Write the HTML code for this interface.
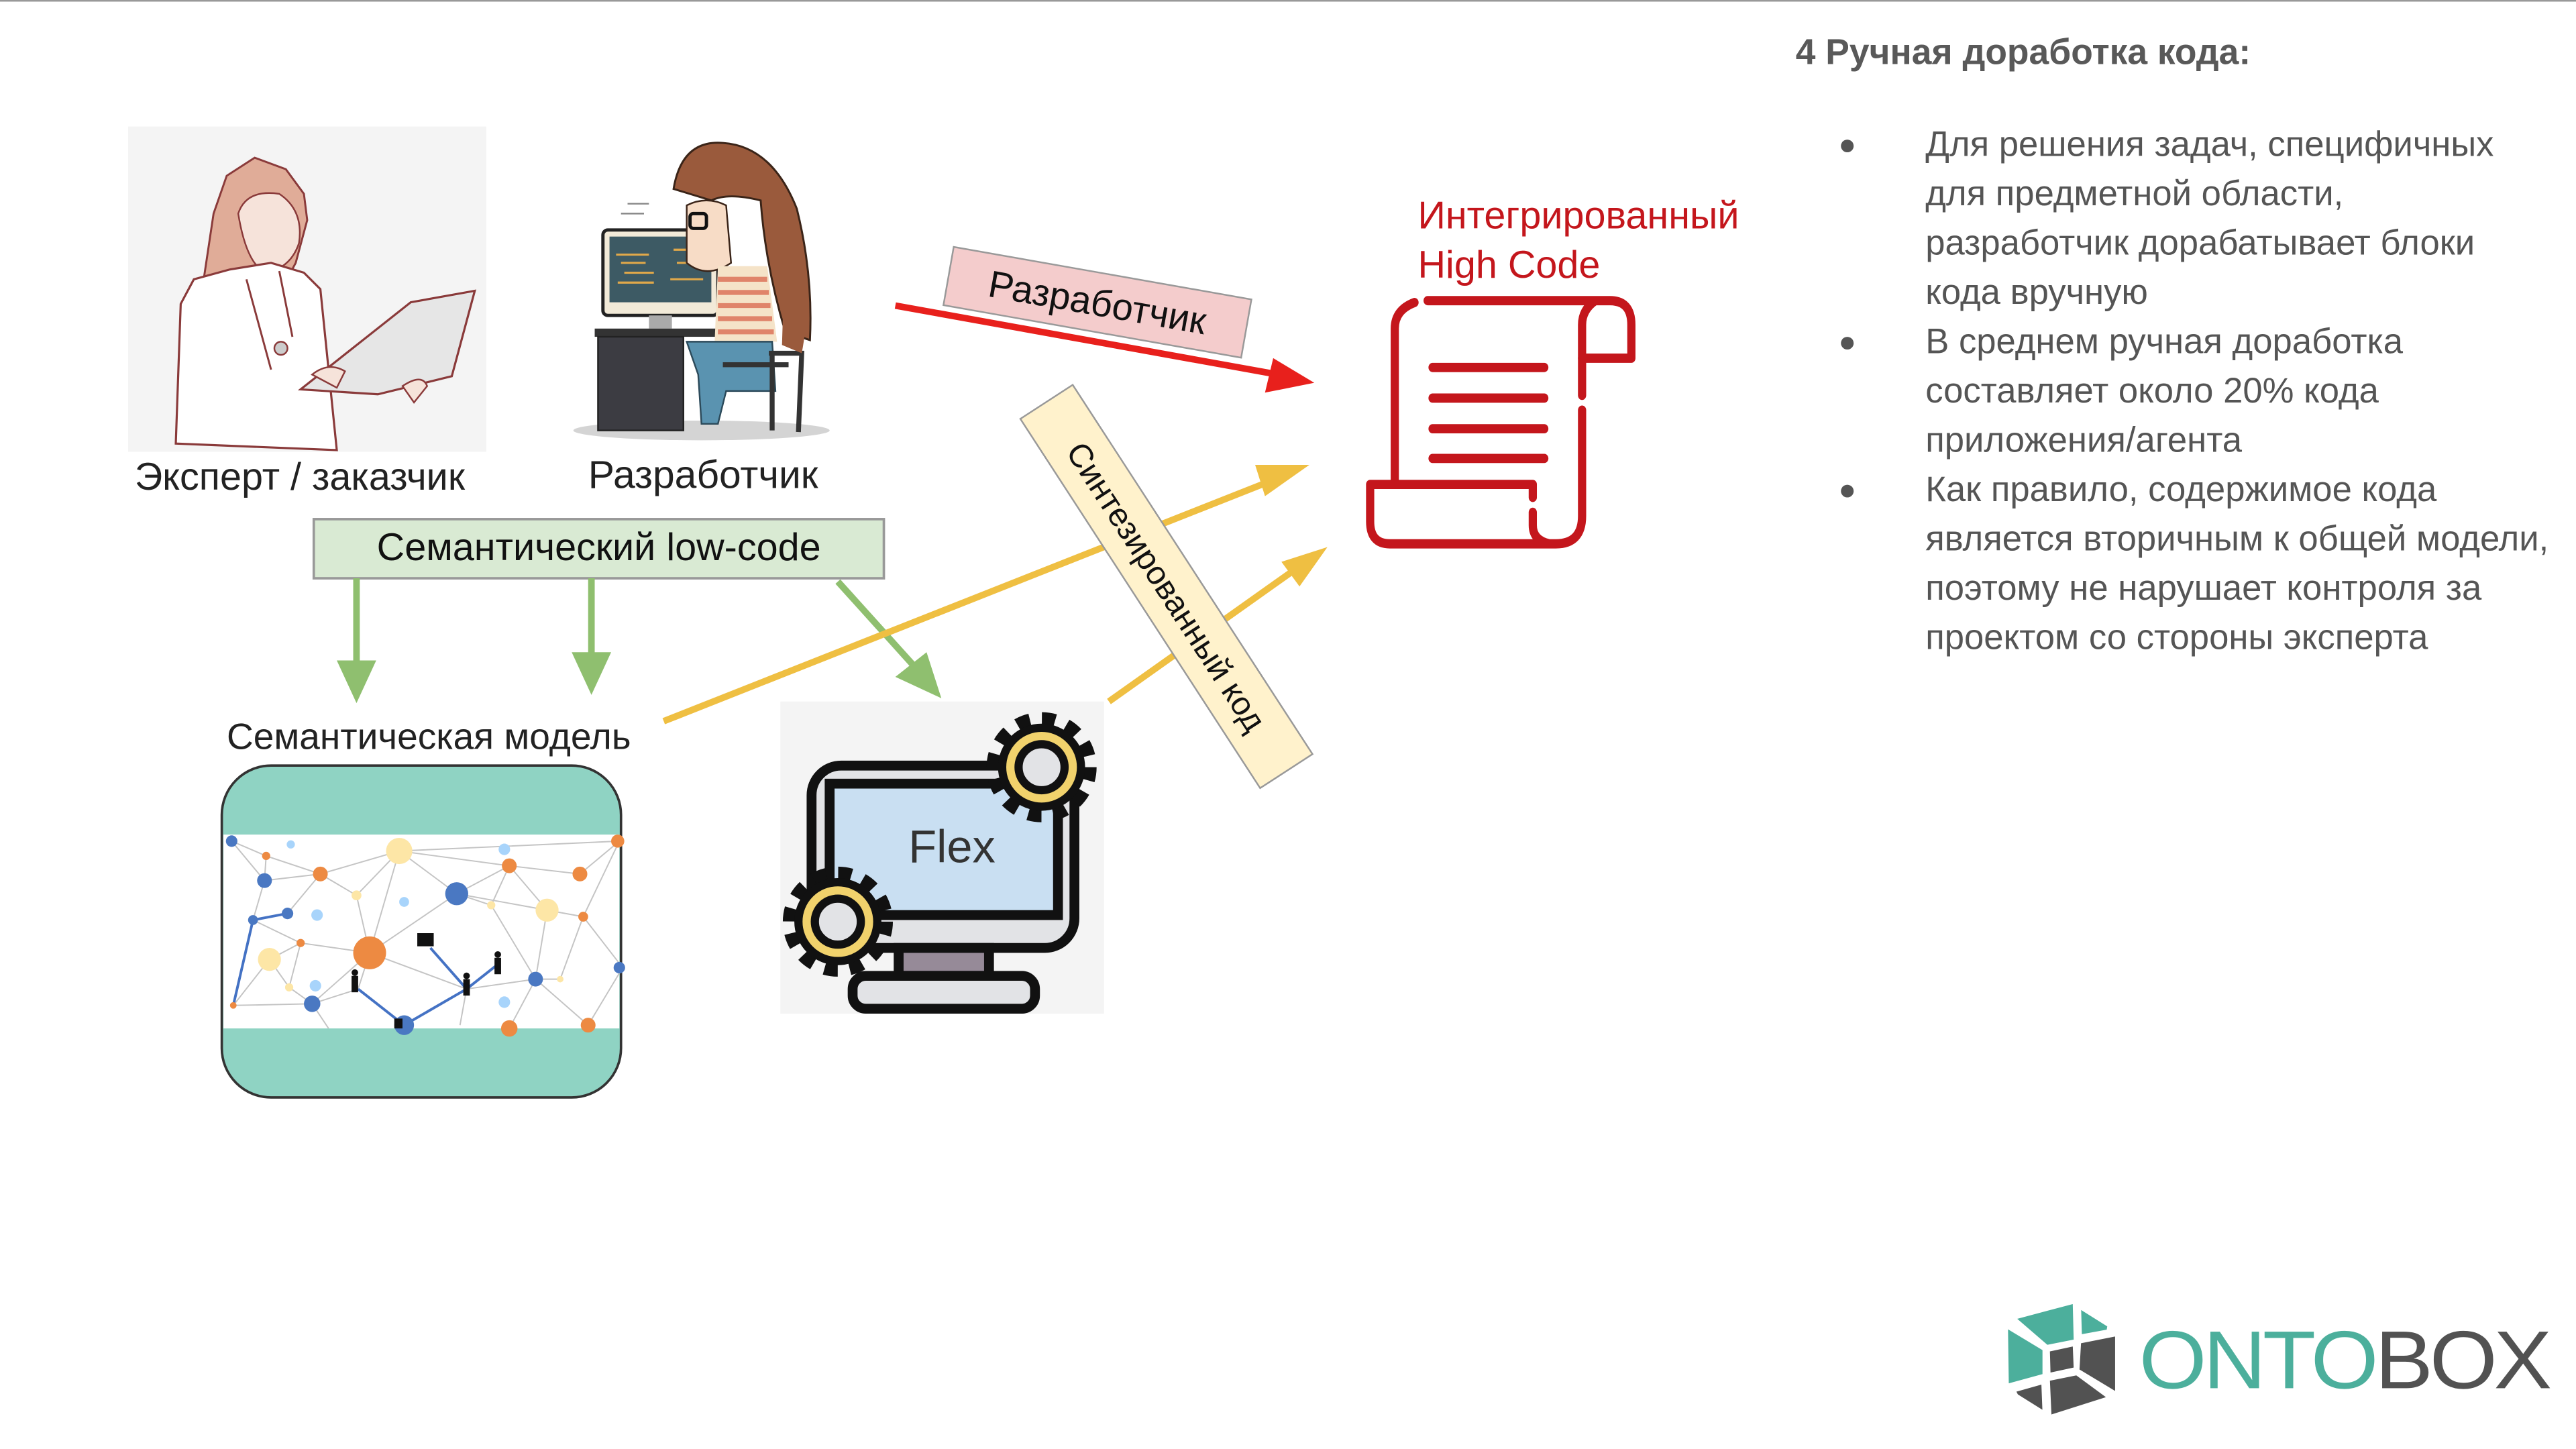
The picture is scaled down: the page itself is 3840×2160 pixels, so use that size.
<!DOCTYPE html>
<html><head><meta charset="utf-8"><style>
html,body{margin:0;padding:0;background:#fff;overflow:hidden}
#s{position:absolute;left:0;top:0;width:1568px;height:882px;transform:scale(2.44898);transform-origin:0 0;font-family:"Liberation Sans",sans-serif;}
.t{position:absolute;white-space:nowrap;color:#222}
.b{position:absolute;white-space:nowrap;color:#555;font-size:21.5px;line-height:30px}
</style></head><body><div id="s">
<div style="position:absolute;left:0;top:0;width:1568px;height:1px;background:#999"></div>
<svg width="1568" height="882" style="position:absolute;left:0;top:0">
<rect x="78" y="77" width="218" height="198" fill="#f4f4f4"/>
<path d="M124,170 L130,130 L138,107 L155,96 L174,103 L185,118 L187,134 L180,160 L172,175 L150,172 L135,175 Z" fill="#e0ac98" stroke="#8a3a3a" stroke-width="1.2"/>
<path d="M145,130 q5,-15 25,-12 q15,10 12,30 q-5,15 -20,18 q-12,-5 -17,-36z" fill="#f6e3da" stroke="#8a3a3a" stroke-width="1"/>
<path d="M107,270 L110,185 L118,170 L140,164 L165,160 L185,166 L195,176 L205,274 Z" fill="#fff" stroke="#8a3a3a" stroke-width="1.3"/>
<path d="M150,170 l15,55 M170,165 l8,40" stroke="#8a3a3a" stroke-width="1.2" fill="none"/>
<circle cx="171" cy="212" r="4" fill="#ccc" stroke="#8a3a3a"/>
<path d="M183,237 L250,184 L289,177 L275,229 L230,240 Z" fill="#e6e6e6" stroke="#8a3a3a" stroke-width="1.3"/>
<path d="M190,228 q10,-8 20,-2 l-5,10 z M245,235 q12,-8 15,0 l-8,10 z" fill="#f6e3da" stroke="#8a3a3a" stroke-width="1"/>
<ellipse cx="427" cy="262" rx="78" ry="6" fill="#d4d4d4"/>
<line x1="382" y1="124" x2="395" y2="124" stroke="#888" stroke-width="1"/><line x1="378" y1="130" x2="392" y2="130" stroke="#888" stroke-width="1"/>
<rect x="367" y="140" width="70" height="52" rx="3" fill="#f2ead8" stroke="#222" stroke-width="2"/>
<rect x="371" y="144" width="62" height="40" fill="#3d5a64"/>
<path d="M375,155h20M378,160h15M380,166h18M376,172h22M410,152h15M412,160h18M408,170h20" stroke="#e0a84a" stroke-width="1.3"/>
<rect x="395" y="192" width="14" height="8" fill="#aaa"/>
<rect x="362" y="200" width="78" height="5" fill="#333"/>
<rect x="364" y="205" width="52" height="57" fill="#3c3c42" stroke="#222" stroke-width="1"/>
<path d="M410,115 q5,-30 30,-28 q30,2 45,40 q10,40 8,80 l-15,-5 q-12,-40 -15,-80 q-20,-5 -30,0z" fill="#9a5a3c" stroke="#3a2418" stroke-width="1.2"/>
<path d="M418,125 q12,-6 24,0 l3,35 q-15,10 -27,0z" fill="#f7dcc6" stroke="#3a2418" stroke-width="1"/>
<rect x="420" y="130" width="10" height="9" rx="2" fill="none" stroke="#111" stroke-width="2"/>
<path d="M437,162 h30 l6,46 h-38z" fill="#f5e3c8"/>
<path d="M437,170h30M437,178h31M437,186h32M437,194h33M437,202h34" stroke="#e0846a" stroke-width="3"/>
<path d="M418,208 h52 l2,30 h-30 l-5,20 h-10 l-2,-30 z" fill="#5a93b0" stroke="#2c4a5a" stroke-width="1"/>
<path d="M468,215 h20 l-2,48 M470,215 l0,47 M440,222 h40" stroke="#333" stroke-width="3" fill="none"/>
<path d="M478,145 q18,30 10,70 l-12,-5z" fill="#9a5a3c"/>
<rect x="191" y="316" width="347" height="36" fill="#d9ead3" stroke="#999" stroke-width="1.5"/>
<g stroke="#8fbf6f" stroke-width="4" fill="#8fbf6f">
<line x1="217" y1="352" x2="217" y2="405"/><polygon points="205,402 229,402 217,428" stroke="none"/>
<line x1="360" y1="352" x2="360" y2="400"/><polygon points="348,397 372,397 360,423" stroke="none"/>
<line x1="510" y1="354" x2="556" y2="405"/><polygon points="545,412 564,397 573,425" stroke="none"/>
</g>
<rect x="135" y="466" width="243" height="202" rx="30" fill="#8fd3c3" stroke="#333" stroke-width="1.5"/>
<rect x="136" y="508" width="241" height="118" fill="#fff"/>
<g stroke="#c4c4c4" stroke-width="0.8" fill="none">
<path d="M141,512 L162,521 L195,532 L243,518 L278,544 L310,527 L353,532 L377,512 M141,512 L161,536 L154,560 L142,612 L190,611 L225,580 L278,544 L333,554 L355,558 L379,589 M162,521 L161,536 L195,532 L217,545 L243,518 M195,532 L175,556 L154,560 L183,574 L225,580 L243,518 M243,518 L310,527 L299,551 L278,544 M310,527 L333,554 L326,596 L341,596 L355,558 L377,512 M299,551 L326,596 L310,626 M183,574 L176,601 L164,584 L183,574 M176,601 L190,611 L218,602 L225,580 M225,580 L284,602 L326,596 M284,602 L280,624 M190,611 L200,626 M164,584 L142,612 M217,545 L225,580 M326,596 L358,624 L379,589 M243,518 L377,512"/>
</g>
<path d="M154,560 L142,612 M154,560 L175,556 M246,624 L218,602 M246,624 L284,602 L262,577 M284,602 L303,587" stroke="#4472c4" stroke-width="1.6" fill="none"/>
<g>
<circle cx="243" cy="518" r="8" fill="#fde6a6"/><circle cx="225" cy="580" r="10" fill="#ed8a42"/>
<circle cx="278" cy="544" r="7" fill="#4a78c2"/><circle cx="333" cy="554" r="7" fill="#fde6a6"/>
<circle cx="164" cy="584" r="7" fill="#fde6a6"/><circle cx="195" cy="532" r="4.5" fill="#ed8a42"/>
<circle cx="161" cy="536" r="4.5" fill="#4a78c2"/><circle cx="190" cy="611" r="5" fill="#4a78c2"/>
<circle cx="310" cy="527" r="4.5" fill="#ed8a42"/><circle cx="353" cy="532" r="4.5" fill="#ed8a42"/>
<circle cx="326" cy="596" r="4.5" fill="#4a78c2"/><circle cx="141" cy="512" r="3.5" fill="#4a78c2"/>
<circle cx="162" cy="521" r="2.5" fill="#ed8a42"/><circle cx="217" cy="545" r="3" fill="#fde6a6"/>
<circle cx="299" cy="551" r="2.5" fill="#fde6a6"/><circle cx="355" cy="558" r="3" fill="#ed8a42"/>
<circle cx="154" cy="560" r="3" fill="#4a78c2"/><circle cx="175" cy="556" r="3.5" fill="#4a78c2"/>
<circle cx="183" cy="574" r="2.5" fill="#ed8a42"/><circle cx="176" cy="601" r="2.5" fill="#fde6a6"/>
<circle cx="142" cy="612" r="2" fill="#ed8a42"/><circle cx="341" cy="596" r="2" fill="#fde6a6"/>
<circle cx="376" cy="512" r="4" fill="#ed8a42"/><circle cx="377" cy="589" r="3.5" fill="#4a78c2"/>
<circle cx="246" cy="624" r="6" fill="#4a78c2"/><circle cx="310" cy="626" r="5" fill="#ed8a42"/>
<circle cx="358" cy="624" r="4.5" fill="#ed8a42"/>
</g>
<g fill="#a8d4fb"><circle cx="177" cy="514" r="2.5"/><circle cx="193" cy="557" r="3.5"/><circle cx="246" cy="549" r="3"/><circle cx="307" cy="517" r="3.5"/><circle cx="192" cy="600" r="3.5"/><circle cx="307" cy="610" r="3.5"/></g>
<g fill="#111"><rect x="214" y="594" width="4" height="10"/><circle cx="216" cy="592" r="2"/><rect x="282" y="596" width="4" height="10"/><circle cx="284" cy="594" r="2"/><rect x="301" y="583" width="4" height="10"/><circle cx="303" cy="581" r="2"/><rect x="254" y="568" width="10" height="8"/><rect x="240" y="620" width="5" height="6"/></g>
<rect x="475" y="427" width="197" height="190" fill="#f4f4f4"/>
<rect x="494" y="466" width="160" height="111" rx="18" fill="#e2e3e6" stroke="#111" stroke-width="6"/>
<rect x="505" y="477" width="139" height="80" fill="#c9dff2" stroke="#111" stroke-width="6"/>
<rect x="547" y="577" width="55" height="17" fill="#968a98" stroke="#111" stroke-width="6"/>
<rect x="519" y="594" width="111" height="20" rx="8" fill="#e2e3e6" stroke="#111" stroke-width="6"/>
<g>
<circle cx="634" cy="467" r="29" fill="none" stroke="#111" stroke-width="9" stroke-dasharray="8 7.2"/>
<circle cx="634" cy="467" r="24" fill="#f1d26c" stroke="#111" stroke-width="5"/>
<circle cx="634" cy="467" r="14" fill="#e2e3e6" stroke="#111" stroke-width="5"/>
<circle cx="510" cy="561" r="29" fill="none" stroke="#111" stroke-width="9" stroke-dasharray="8 7.2"/>
<circle cx="510" cy="561" r="24" fill="#f1d26c" stroke="#111" stroke-width="5"/>
<circle cx="510" cy="561" r="14" fill="#e2e3e6" stroke="#111" stroke-width="5"/>
</g>
<line x1="545" y1="186" x2="778" y2="228" stroke="#e8201c" stroke-width="4"/>
<polygon points="800,233 770,239 775,218" fill="#e8201c"/>
<g stroke="#efbf42" stroke-width="4" fill="#efbf42">
<line x1="404" y1="439" x2="778" y2="291"/><polygon points="797,283 770,302 764,283" stroke="none"/>
<line x1="675" y1="427" x2="792" y2="344"/><polygon points="808,333 791,357 780,342" stroke="none"/>
</g>
<g transform="translate(668,184) rotate(10)"><rect x="-92" y="-18" width="184" height="36" fill="#f4cccc" stroke="#999" stroke-width="1"/>
<text x="0" y="8" text-anchor="middle" font-size="23" font-family="Liberation Sans" fill="#111">Разработчик</text></g>
<g transform="translate(710,357) rotate(57)"><rect x="-134" y="-19" width="268" height="38" fill="#fff2cc" stroke="#999" stroke-width="1"/>
<text x="0" y="7" text-anchor="middle" font-size="20" font-family="Liberation Sans" fill="#111">Синтезированный код</text></g>
<g transform="translate(0,183) scale(1,1.13) translate(0,-174)" fill="none" stroke="#c4161c" stroke-width="5" stroke-linecap="round" stroke-linejoin="round">
<path d="M869,174 H980 q13,0 13,13 V205 H963 V187 q0,-8 8,-13"/>
<path d="M861,175 q-12,4 -12,14 V273"/>
<path d="M963,205 V225 M963,233 V290 q0,15 -16,15 H846 q-12,0 -12,-12 V273 H933 V280 M933,288 V295 q0,8 10,10"/>
<path d="M872,210 H940 M872,226.5 H940 M872,243 H940 M872,259 H940"/>
</g>
<g stroke-linejoin="round" stroke-width="1.5" stroke="#fff">
<polygon points="1226.3,802.4 1262.4,792.8 1263,816 1246,819.4" fill="#4caf9c"/>
<polygon points="1266,796 1283.5,807 1283,810 1266.5,813" fill="#4caf9c"/>
<polygon points="1221.5,807.8 1244,821.4 1244,837 1222,843" fill="#4caf9c"/>
<polygon points="1247,822 1262.4,818.7 1263,833 1247.4,836.4" fill="#525252"/>
<polygon points="1266,817 1288.2,812.6 1288.2,848 1265,834" fill="#525252"/>
<polygon points="1226.3,846.6 1243.3,841.8 1244,859.5 1227.7,849.3" fill="#525252"/>
<polygon points="1247,839.8 1264,836.4 1283.5,850.7 1248,862" fill="#525252"/>
</g>
</svg>
<div class="t" style="left:82px;top:277px;font-size:23.5px">Эксперт / заказчик</div>
<div class="t" style="left:358px;top:276px;font-size:24px">Разработчик</div>
<div class="t" style="left:191px;top:320px;width:347px;text-align:center;font-size:23.5px;color:#111">Семантический low-code</div>
<div class="t" style="left:138px;top:436px;font-size:22.5px">Семантическая модель</div>
<div class="t" style="left:553px;top:500px;font-size:28px;color:#333">Flex</div>
<div class="t" style="left:863px;top:116px;font-size:23.5px;color:#c4161c;line-height:30px">Интегрированный<br>High Code</div>
<div class="t" style="left:1093px;top:19px;font-size:21.8px;font-weight:bold;color:#595959">4 Ручная доработка кода:</div>
<div class="b" style="left:1119px;top:73px;font-size:18px;line-height:30px">●</div>
<div class="b" style="left:1119px;top:193px;font-size:18px;line-height:30px">●</div>
<div class="b" style="left:1119px;top:283px;font-size:18px;line-height:30px">●</div>
<div class="b" style="left:1172px;top:73px">Для решения задач, специфичных<br>для предметной области,<br>разработчик дорабатывает блоки<br>кода вручную<br>В среднем ручная доработка<br>составляет около 20% кода<br>приложения/агента<br>Как правило, содержимое кода<br>является вторичным к общей модели,<br>поэтому не нарушает контроля за<br>проектом со стороны эксперта</div>
<div class="t" style="left:1302px;top:802px;font-size:50px;line-height:52px;letter-spacing:-2px;transform:scaleX(1.06);transform-origin:0 0"><span style="color:#4caf9c">ONTO</span><span style="color:#525252">BOX</span></div>
</div></body></html>
